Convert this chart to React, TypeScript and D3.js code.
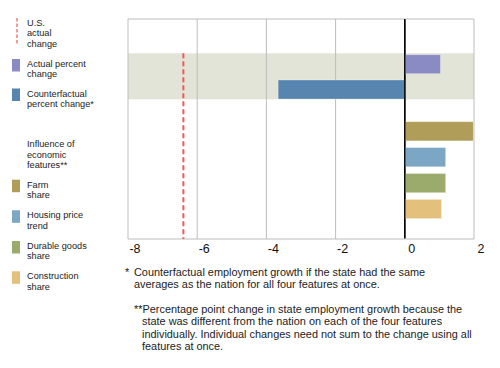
import * as d3 from "d3";

// top rows: actual vs counterfactual (percent change)
const topLabels = ["Actual percent change", "Counterfactual percent change*"];
const topValues = [1.03, -3.66];
const topColors = ["#8b8bc3", "#5884b0"];

// influence of economic features (percentage points)
const featureLabels = ["Farm share", "Housing price trend", "Durable goods share", "Construction share"];
const featureValues = [1.98, 1.18, 1.18, 1.06];
const featureColors = ["#b09d5a", "#7ba7c4", "#9aab6c", "#e3c17d"];

const usActualChange = -6.4;
const xTicks = [-8, -6, -4, -2, 0, 2];

const FONT = "'Liberation Sans', Arial, sans-serif";

const legendRows: { kind: "dash" | "swatch" | "text"; color?: string; lines: string[]; y: number }[] = [
  { kind: "dash", color: "#f27a7a", lines: ["U.S.", "actual", "change"], y: 26 },
  { kind: "swatch", color: topColors[0], lines: ["Actual percent", "change"], y: 67 },
  { kind: "swatch", color: topColors[1], lines: ["Counterfactual", "percent change*"], y: 96.5 },
  { kind: "text", lines: ["Influence of", "economic", "features**"], y: 147.3 },
  { kind: "swatch", color: featureColors[0], lines: ["Farm", "share"], y: 187.7 },
  { kind: "swatch", color: featureColors[1], lines: ["Housing price", "trend"], y: 218.3 },
  { kind: "swatch", color: featureColors[2], lines: ["Durable goods", "share"], y: 249 },
  { kind: "swatch", color: featureColors[3], lines: ["Construction", "share"], y: 279.3 },
];

const footnote1 = ["Counterfactual employment growth if the state had the same", "averages as the nation for all four features at once."];
const footnote2 = [
  "Percentage point change in state employment growth because the",
  "state was different from the nation on each of the four features",
  "individually. Individual changes need not sum to the change using all",
  "features at once.",
];

export default function App() {
  const W = 500, H = 368;
  const plotTop = 19, plotBottom = 239;
  const x = d3.scaleLinear().domain([-8, 2]).range([128, 474]);

  const yTop = d3.scaleBand<string>().domain(topLabels).range([54.7, 99]).paddingInner(0.25).paddingOuter(0);
  const yFeat = d3.scaleBand<string>().domain(featureLabels).range([121.7, 218.6]).paddingInner(0.26).paddingOuter(0);

  const lineH = 10.3;
  const legSize = 9.2;
  const fnSize = 10.9;
  const fnLine = 12.25;

  return (
    <svg width={W} height={H} style={{ position: "absolute", left: 0, top: 0, background: "#fff" }} fontFamily={FONT}>
      {/* shaded band behind top rows */}
      <rect x={x(-8)} y={yTop.range()[0] - 1.4} width={x(2) - x(-8)} height={yTop.range()[1] - yTop.range()[0] + 1.7} fill="#e1e4d6" />

      {/* grid */}
      {xTicks.map((t) => (
        <line key={t} x1={x(t)} x2={x(t)} y1={plotTop} y2={plotBottom}
          stroke={t === 0 ? "#000" : "#bdbdbd"} strokeWidth={t === 0 ? 1.3 : 1} />
      ))}
      <line x1={x(-8)} x2={x(2)} y1={plotTop} y2={plotTop} stroke="#bdbdbd" />
      <line x1={x(-8)} x2={x(2)} y1={plotBottom} y2={plotBottom} stroke="#bdbdbd" />

      {/* top bars */}
      {topLabels.map((l, i) => (
        <rect key={l} x={x(Math.min(0, topValues[i]))} y={yTop(l)!} width={Math.abs(x(topValues[i]) - x(0))}
          height={yTop.bandwidth()} fill={topColors[i]} stroke="#fff" strokeOpacity={0.35} strokeWidth={0.8} />
      ))}

      {/* feature bars */}
      {featureLabels.map((l, i) => (
        <rect key={l} x={x(Math.min(0, featureValues[i]))} y={yFeat(l)!} width={Math.abs(x(featureValues[i]) - x(0))}
          height={yFeat.bandwidth()} fill={featureColors[i]} stroke="#fff" strokeOpacity={0.35} strokeWidth={0.8} />
      ))}

      {/* zero line on top */}
      <line x1={x(0)} x2={x(0)} y1={plotTop} y2={plotBottom - 1} stroke="#000" strokeWidth={1.3} />

      {/* US actual change */}
      <line x1={x(usActualChange)} x2={x(usActualChange)} y1={yTop.range()[0] - 1.4} y2={plotBottom}
        stroke="#f05a5a" strokeWidth={2} strokeDasharray="5,3" />

      {/* tick labels */}
      {xTicks.map((t) => (
        <text key={t} x={x(t) + 7} y={253} textAnchor="middle" fontSize={12.5} fill="#111">{t}</text>
      ))}

      {/* legend */}
      {legendRows.map((r, i) => (
        <g key={i}>
          {r.kind === "dash" && (
            <line x1={17} x2={17} y1={r.y - 8} y2={r.y + 19} stroke={r.color} strokeWidth={1.5} strokeDasharray="3.5,2" />
          )}
          {r.kind === "swatch" && <rect x={12} y={r.y - 8} width={8} height={12.5} fill={r.color} />}
          {r.lines.map((s, j) => (
            <text key={j} x={27} y={r.y + j * lineH} fontSize={legSize} fill="#222">{s}</text>
          ))}
        </g>
      ))}

      {/* footnotes */}
      <text x={125} y={276} fontSize={fnSize} fill="#222">*</text>
      {footnote1.map((s, j) => (
        <text key={s} x={134} y={276 + j * fnLine} fontSize={fnSize} fill="#222">{s}</text>
      ))}
      <text x={134} y={313} fontSize={fnSize} fill="#222">**{footnote2[0]}</text>
      {footnote2.slice(1).map((s, j) => (
        <text key={s} x={142} y={313 + (j + 1) * fnLine} fontSize={fnSize} fill="#222">{s}</text>
      ))}
    </svg>
  );
}
